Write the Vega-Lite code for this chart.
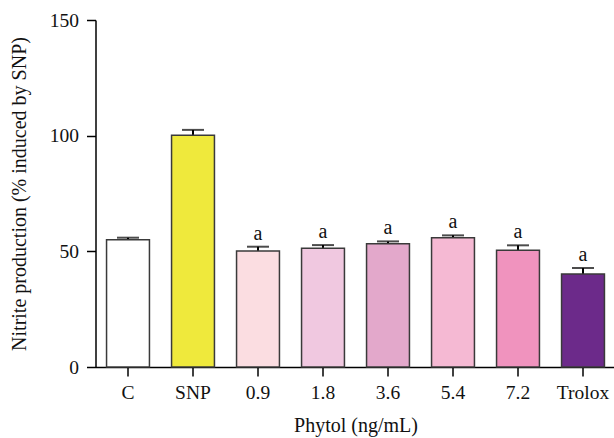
{
  "$schema": "https://vega.github.io/schema/vega-lite/v6.json",
  "autosize": {"type": "none"},
  "padding": {"left": 95.5, "top": 20, "right": 0, "bottom": 71},
  "width": 520,
  "height": 347,
  "background": "white",
  "config": {
    "view": {"stroke": null},
    "font": "Liberation Serif",
    "axis": {
      "domainColor": "black",
      "domainWidth": 1.5,
      "tickColor": "black",
      "tickWidth": 1.5,
      "tickSize": 9,
      "labelFont": "Liberation Serif",
      "labelFontSize": 19.5,
      "labelColor": "#111",
      "titleFont": "Liberation Serif",
      "titleFontSize": 20,
      "titleFontWeight": "normal",
      "titleColor": "#111",
      "grid": false
    }
  },
  "data": {
    "values": [
      {"group": "C", "value": 55.0, "upper": 55.9, "label": ""},
      {"group": "SNP", "value": 100.2, "upper": 102.5, "label": ""},
      {"group": "0.9", "value": 50.1, "upper": 52.0, "label": "a"},
      {"group": "1.8", "value": 51.3, "upper": 52.7, "label": "a"},
      {"group": "3.6", "value": 53.3, "upper": 54.3, "label": "a"},
      {"group": "5.4", "value": 55.9, "upper": 56.9, "label": "a"},
      {"group": "7.2", "value": 50.5, "upper": 52.6, "label": "a"},
      {"group": "Trolox", "value": 40.2, "upper": 42.8, "label": "a"}
    ]
  },
  "encoding": {
    "x": {
      "field": "group",
      "type": "nominal",
      "sort": null,
      "scale": {"paddingInner": 0.34, "paddingOuter": 0.17},
      "axis": {"labelAngle": 0, "labelPadding": 7, "title": "Phytol (ng/mL)", "titlePadding": 14}
    }
  },
  "layer": [
    {
      "mark": {"type": "rule", "color": "black", "strokeWidth": 2},
      "encoding": {
        "y": {"field": "value", "type": "quantitative", "scale": {"domain": [0, 150], "nice": false}},
        "y2": {"field": "upper"}
      }
    },
    {
      "mark": {"type": "tick", "color": "black", "thickness": 2, "size": 22},
      "encoding": {
        "y": {"field": "upper", "type": "quantitative", "scale": {"domain": [0, 150], "nice": false}}
      }
    },
    {
      "mark": {"type": "bar", "stroke": "#3a3a3a", "strokeWidth": 1.5},
      "encoding": {
        "y": {
          "field": "value",
          "type": "quantitative",
          "scale": {"domain": [0, 150], "nice": false},
          "axis": {"values": [0, 50, 100, 150], "labelPadding": 8, "title": "Nitrite production (% induced by SNP)", "titlePadding": 20}
        },
        "color": {
          "field": "group",
          "type": "nominal",
          "sort": null,
          "scale": {
            "domain": ["C", "SNP", "0.9", "1.8", "3.6", "5.4", "7.2", "Trolox"],
            "range": ["#FFFFFF", "#EFE93C", "#FBDDE1", "#F0C8E0", "#E3A8CB", "#F5B9D3", "#F093BE", "#6C2A8A"]
          },
          "legend": null
        }
      }
    },
    {
      "mark": {"type": "text", "baseline": "alphabetic", "dy": -7, "fontSize": 20, "font": "Liberation Serif", "color": "#111"},
      "encoding": {
        "y": {"field": "upper", "type": "quantitative", "scale": {"domain": [0, 150], "nice": false}},
        "text": {"field": "label"}
      }
    }
  ]
}
